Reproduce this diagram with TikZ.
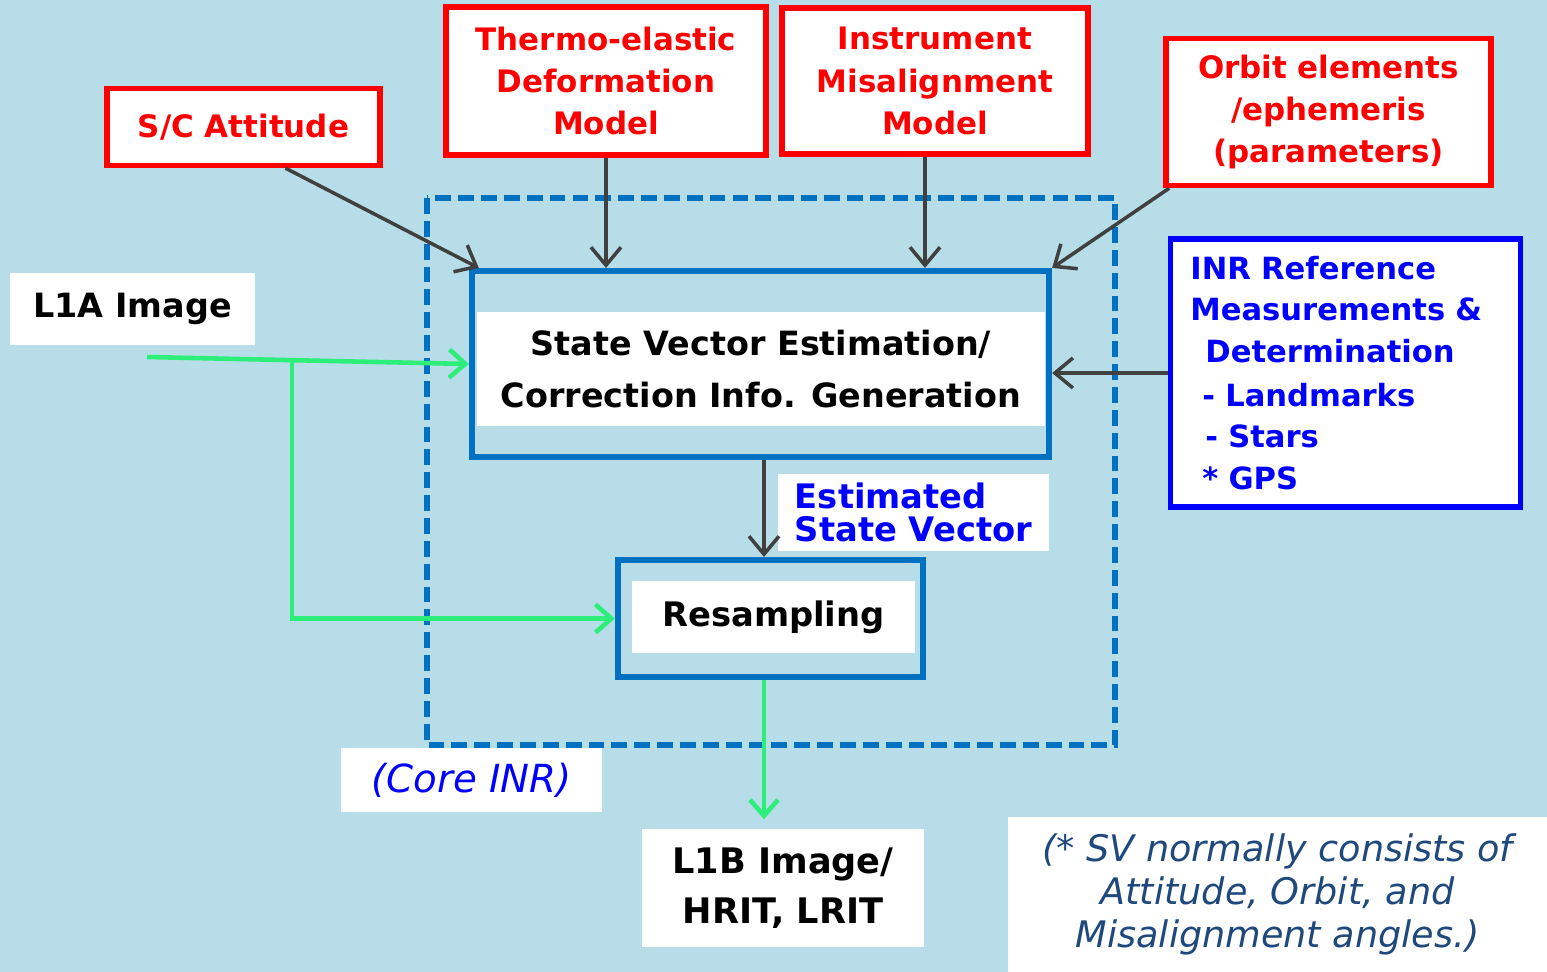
\documentclass[tikz,border=0pt]{standalone}
\usepackage{fontspec}
\setmainfont{DejaVu Sans}
\usetikzlibrary{arrows.meta}
\definecolor{bgblue}{HTML}{B7DDE8}
\definecolor{coreblue}{HTML}{0070C0}
\definecolor{arrowgray}{HTML}{404040}
\definecolor{feedgreen}{HTML}{2EEE7A}
\definecolor{notenavy}{HTML}{1F497D}

\begin{document}
\begin{tikzpicture}[x=0.01cm,y=-0.01cm,
  redbox/.style={draw=red,line width=1.5pt,fill=white,text=red,align=center,inner sep=0pt,
    font=\fontsize{8.8}{12}\selectfont\bfseries},
  corebox/.style={draw=coreblue,line width=1.7pt},
  whitelbl/.style={fill=white,inner sep=0pt,align=center},
  grayarrow/.style={draw=arrowgray,line width=1pt,-{Straight Barb[length=1.8mm,width=3mm]}},
  greenarrow/.style={draw=feedgreen,line width=1.3pt,-{Straight Barb[length=1.6mm,width=2.8mm]}}]
  \fill[bgblue] (0,0) rectangle (1547,972);
  \useasboundingbox (0,0) rectangle (1547,972);
  \draw[coreblue,line width=1.5pt,dash pattern=on 4.5pt off 2pt] (427,198) rectangle (1115,745);

  \node[redbox,minimum width=2.73cm,minimum height=0.77cm] (att) at (243.5,127) {S/C Attitude};
  \node[redbox,minimum width=3.2cm,minimum height=1.48cm] (thermo) at (606,81) {Thermo-elastic\\Deformation\\Model};
  \node[redbox,minimum width=3.06cm,minimum height=1.46cm] (instr) at (935,81) {Instrument\\Misalignment\\Model};
  \node[redbox,minimum width=3.25cm,minimum height=1.47cm] (orbit) at (1328.5,112) {Orbit elements\\/ephemeris\\(parameters)};

  \node[draw=blue,line width=1.5pt,fill=white,text=blue,align=left,text width=3.1cm,
    inner xsep=0.2cm,minimum height=2.68cm,font=\fontsize{8.7}{11.7}\selectfont\bfseries] (inr) at (1345.5,373)
    {INR Reference\\Measurements \&\\\hspace*{1.5mm}Determination\\[1pt]
     \hspace*{1.2mm}- Landmarks\\\hspace*{1.5mm}- Stars\\\hspace*{1.2mm}* GPS};

  \node[whitelbl,minimum width=2.45cm,minimum height=0.72cm,font=\fontsize{9.5}{12}\selectfont\bfseries] (l1a) at (132.5,309) {L1A Image};

  \node[corebox,minimum width=5.77cm,minimum height=1.86cm] (sve) at (760.5,364) {};
  \node[whitelbl,minimum width=5.68cm,minimum height=1.14cm,font=\fontsize{9.5}{14.7}\selectfont\bfseries] (svetext) at (761,369)
    {State Vector Estimation/\\Correction Info. Generation};

  \node[whitelbl,align=left,text=blue,minimum width=2.71cm,minimum height=0.77cm,
    font=\fontsize{9.6}{9.2}\selectfont\bfseries] (est) at (913.5,512.5) {Estimated\\State Vector};

  \node[corebox,minimum width=3.05cm,minimum height=1.17cm] (res) at (770.5,618.5) {};
  \node[whitelbl,minimum width=2.83cm,minimum height=0.72cm,font=\fontsize{9.6}{12}\selectfont\bfseries] (restext) at (773.5,617) {Resampling};

  \node[whitelbl,minimum width=2.61cm,minimum height=0.64cm,text=blue,font=\fontsize{11}{13}\selectfont\itshape] (corelbl) at (471.5,780) {(Core INR)};
  \node[whitelbl,minimum width=2.82cm,minimum height=1.18cm,font=\fontsize{10}{14.2}\selectfont\bfseries] (l1b) at (783,888) {L1B Image/\\HRIT, LRIT};
  \node[whitelbl,minimum width=5.39cm,minimum height=1.55cm,text=notenavy,font=\fontsize{10.4}{12.3}\selectfont\itshape] (note) at (1277.5,894.5)
    {(* SV normally consists of\\Attitude, Orbit, and\\Misalignment angles.)};

  % inputs to the estimation
  \draw[grayarrow] ([xshift=0.42cm]att.south) -- ([xshift=0.1cm]sve.north west);
  \draw[grayarrow] (thermo.south) -- (thermo.south |- sve.north);
  \draw[grayarrow] ([xshift=-0.1cm]instr.south) -- ([xshift=-0.1cm]instr.south |- sve.north);
  \draw[grayarrow] ([xshift=0.06cm]orbit.south west) -- (sve.north east);
  \draw[grayarrow] (inr.west) -- (inr.west -| sve.east);
  \draw[grayarrow] ([xshift=0.035cm]sve.south) -- ([xshift=0.035cm]sve.south |- res.north);

  % image flow
  \coordinate (l1ain) at (147,357);
  \coordinate (split) at (292,360);
  \draw[greenarrow] (l1ain) -- (sve.west);
  \draw[greenarrow] (split) |- (res.west);
  \draw[greenarrow,shorten >=0.09cm] ([xshift=-0.065cm]res.south) -- ([xshift=-0.065cm]res.south |- l1b.north);
\end{tikzpicture}
\end{document}
